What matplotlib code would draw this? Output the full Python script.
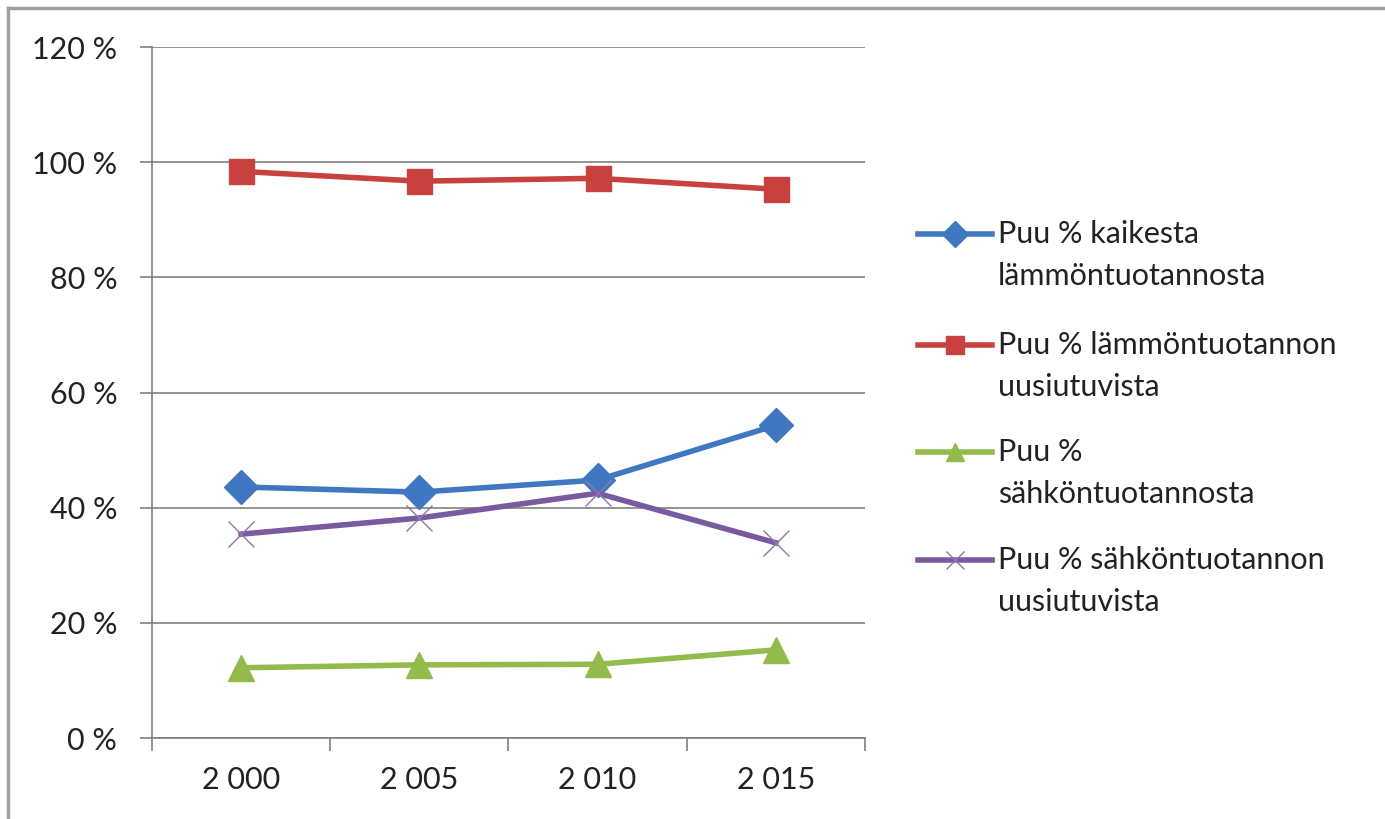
import matplotlib.pyplot as plt
from matplotlib.lines import Line2D

plt.rcParams['font.family'] = ['Lato', 'DejaVu Sans']

years = ['2 000', '2 005', '2 010', '2 015']
kaikesta_lampo = [43.6, 42.7, 44.8, 54.3]
lampo_uusiutuvat = [98.4, 96.7, 97.2, 95.3]
sahko = [12.2, 12.7, 12.8, 15.3]
sahko_uusiutuvat = [35.4, 38.2, 42.5, 33.9]

labels = [('Puu % kaikesta', 'lämmöntuotannosta'),
          ('Puu % lämmöntuotannon', 'uusiutuvista'),
          ('Puu %', 'sähköntuotannosta'),
          ('Puu % sähköntuotannon', 'uusiutuvista')]
colors = ['#3F78C0', '#C8413F', '#93BB4B', '#7A5A9E']
markers = ['D', 's', '^', 'x']
sizes = [17, 18, 19, 19]
text_color = '#222222'
FS = 22
LW = 4.0

fig = plt.figure(figsize=(13.85, 8.19), dpi=100)
ax = fig.add_axes([0.1097, 0.0989, 0.5148, 0.8437])

x = list(range(len(years)))
series = [kaikesta_lampo, lampo_uusiutuvat, sahko, sahko_uusiutuvat]
for vals, c, m, s in zip(series, colors, markers, sizes):
    extra = dict(mew=1.0, mec='#8C78B0') if m == 'x' else {}
    ax.plot(x, vals, color=c, lw=LW, marker=m, ms=s, **extra)

ax.set_xlim(-0.5, 3.5)
ax.set_ylim(0, 120)
ax.set_yticks(range(0, 121, 20))
ax.set_yticklabels([f'{v} %' for v in range(0, 121, 20)])
ax.set_xticks([-0.5, 0.5, 1.5, 2.5, 3.5])
ax.set_xticklabels([])
ax.set_xticks(x, minor=True)
ax.set_xticklabels(years, minor=True)
ax.tick_params(axis='x', which='minor', length=0, pad=20, labelsize=FS, colors=text_color)
ax.tick_params(axis='x', which='major', length=9, width=1.2, color='#808080')
ax.tick_params(axis='y', length=9, width=1.2, color='#808080', pad=16,
               labelsize=FS, labelcolor=text_color)

ax.grid(axis='y', color='#808080', lw=1.2)
ax.set_axisbelow(True)
for side in ('top', 'right'):
    ax.spines[side].set_visible(False)
for side in ('left', 'bottom'):
    ax.spines[side].set_color('#808080')
    ax.spines[side].set_linewidth(1.2)

# legend: handle sits beside the first line of each two-line label
W, H = 1385.0, 819.0
first_rows = [234, 345, 452, 560]
row_gap = 42
for (l1, l2), c, m, y in zip(labels, colors, markers, first_rows):
    fy = 1 - y / H
    extra = dict(mew=1.0, mec='#8C78B0') if m == 'x' else {}
    fig.add_artist(Line2D([918 / W, 992 / W], [fy, fy], color=c, lw=LW,
                          transform=fig.transFigure))
    fig.add_artist(Line2D([955 / W], [fy], color=c, marker=m, ms=13, lw=0,
                          transform=fig.transFigure, **extra))
    fig.text(998 / W, fy, l1, fontsize=FS, color=text_color, va='center', ha='left')
    fig.text(998 / W, 1 - (y + row_gap) / H, l2, fontsize=FS, color=text_color,
             va='center', ha='left')

# outer frame of the chart area
fig.add_artist(Line2D([0.006, 1.0], [0.99, 0.99], color='#A0A0A0', lw=2.5,
                      transform=fig.transFigure))
fig.add_artist(Line2D([0.006, 0.006], [0.0, 0.99], color='#A0A0A0', lw=2.5,
                      transform=fig.transFigure))

fig.savefig('out.png', dpi=100)
